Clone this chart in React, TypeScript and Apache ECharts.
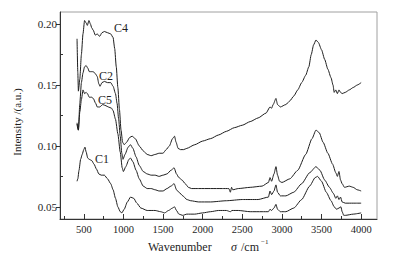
import React, { useEffect, useRef } from "react";
import * as echarts from "echarts";

const xMajorTicks = [500, 1000, 1500, 2000, 2500, 3000, 3500, 4000];
const xMinorTicks = [250, 750, 1250, 1750, 2250, 2750, 3250, 3750];
const yMajorTicks = [0.05, 0.1, 0.15, 0.2];
const yMinorTicks = [0.075, 0.125, 0.175];

const c4X = [415, 425, 432, 450, 470, 490, 510, 530, 545, 565, 585, 600, 620, 645, 670, 700, 730, 760, 800, 840, 870, 890, 910, 930, 950, 970, 990, 1010, 1040, 1080, 1110, 1150, 1200, 1250, 1300, 1350, 1400, 1450, 1500, 1540, 1580, 1620, 1645, 1665, 1690, 1720, 1760, 1800, 1900, 2000, 2100, 2200, 2300, 2400, 2500, 2600, 2700, 2800, 2850, 2870, 2890, 2925, 2945, 2980, 3050, 3100, 3150, 3200, 3250, 3300, 3340, 3370, 3400, 3430, 3460, 3500, 3540, 3580, 3620, 3645, 3660, 3680, 3700, 3720, 3740, 3760, 3800, 3850, 3900, 3950, 4000];
const c4Y = [0.188, 0.16, 0.145, 0.155, 0.175, 0.192, 0.203, 0.201, 0.199, 0.203, 0.2, 0.197, 0.195, 0.191, 0.192, 0.19, 0.193, 0.194, 0.193, 0.192, 0.189, 0.18, 0.165, 0.148, 0.13, 0.113, 0.103, 0.101, 0.103, 0.107, 0.108, 0.106, 0.1, 0.096, 0.093, 0.092, 0.093, 0.094, 0.094, 0.097, 0.1, 0.106, 0.108, 0.103, 0.098, 0.097, 0.097, 0.098, 0.101, 0.104, 0.106, 0.109, 0.112, 0.115, 0.117, 0.12, 0.123, 0.127, 0.132, 0.131, 0.134, 0.139, 0.134, 0.132, 0.134, 0.137, 0.141, 0.146, 0.152, 0.158, 0.165, 0.175, 0.183, 0.187, 0.185, 0.179, 0.171, 0.163, 0.156, 0.15, 0.144, 0.146, 0.143, 0.146, 0.144, 0.143, 0.144, 0.146, 0.148, 0.15, 0.152];

const c2X = [415, 425, 432, 450, 470, 490, 510, 530, 550, 570, 600, 620, 650, 670, 690, 705, 730, 760, 800, 840, 870, 900, 920, 940, 960, 980, 995, 1020, 1060, 1090, 1120, 1160, 1200, 1250, 1300, 1350, 1400, 1450, 1500, 1550, 1600, 1640, 1670, 1700, 1740, 1780, 1820, 1860, 1950, 2100, 2250, 2330, 2350, 2365, 2380, 2450, 2600, 2750, 2830, 2850, 2870, 2900, 2925, 2945, 2970, 3000, 3100, 3200, 3300, 3380, 3430, 3470, 3520, 3580, 3640, 3680, 3700, 3720, 3740, 3760, 3790, 3850, 3900, 3950, 4000];
const c2Y = [0.119, 0.115, 0.113, 0.135, 0.152, 0.16, 0.165, 0.166, 0.164, 0.161, 0.161, 0.161, 0.159, 0.157, 0.151, 0.149, 0.152, 0.153, 0.152, 0.152, 0.149, 0.143, 0.135, 0.122, 0.108, 0.094, 0.089, 0.093, 0.099, 0.101, 0.098, 0.091, 0.084, 0.079, 0.077, 0.076, 0.076, 0.075, 0.076, 0.077, 0.08, 0.082, 0.077, 0.074, 0.072, 0.069, 0.066, 0.065, 0.065, 0.065, 0.065, 0.065, 0.062, 0.066, 0.064, 0.065, 0.066, 0.067, 0.07, 0.074, 0.071, 0.077, 0.083, 0.076, 0.071, 0.07, 0.073, 0.08, 0.093, 0.106, 0.113, 0.111, 0.103, 0.094, 0.085, 0.078, 0.075, 0.079, 0.072, 0.069, 0.066, 0.067, 0.066, 0.064, 0.063];

const c5X = [415, 425, 432, 450, 470, 490, 510, 530, 545, 570, 600, 620, 650, 670, 700, 740, 780, 810, 850, 870, 900, 930, 960, 985, 1000, 1030, 1070, 1090, 1120, 1160, 1200, 1250, 1300, 1350, 1400, 1450, 1500, 1550, 1600, 1640, 1670, 1700, 1750, 1800, 1850, 1950, 2100, 2300, 2500, 2700, 2830, 2850, 2870, 2900, 2925, 2945, 2980, 3050, 3150, 3250, 3350, 3430, 3480, 3540, 3600, 3650, 3680, 3700, 3720, 3740, 3760, 3800, 3900, 4000];
const c5Y = [0.118, 0.114, 0.113, 0.128, 0.138, 0.146, 0.143, 0.144, 0.143, 0.14, 0.14, 0.139, 0.135, 0.132, 0.132, 0.134, 0.133, 0.132, 0.131, 0.129, 0.122, 0.11, 0.095, 0.082, 0.079, 0.083, 0.089, 0.09, 0.087, 0.08, 0.073, 0.067, 0.065, 0.065, 0.064, 0.063, 0.063, 0.065, 0.067, 0.069, 0.064, 0.062, 0.059, 0.056, 0.055, 0.054, 0.054, 0.055, 0.056, 0.056, 0.058, 0.063, 0.06, 0.063, 0.068, 0.062, 0.059, 0.059, 0.062, 0.069, 0.078, 0.083, 0.08, 0.072, 0.066, 0.061, 0.057, 0.059, 0.056, 0.058, 0.054, 0.053, 0.053, 0.053];

const c1X = [415, 425, 440, 460, 480, 500, 515, 530, 550, 570, 600, 630, 660, 690, 720, 760, 800, 840, 870, 900, 930, 960, 980, 1010, 1050, 1090, 1130, 1170, 1220, 1300, 1400, 1470, 1520, 1570, 1620, 1645, 1670, 1700, 1750, 1800, 1900, 2000, 2100, 2200, 2300, 2350, 2370, 2450, 2600, 2750, 2830, 2850, 2870, 2900, 2925, 2945, 2980, 3050, 3150, 3250, 3350, 3420, 3450, 3500, 3560, 3620, 3660, 3690, 3720, 3745, 3760, 3780, 3800, 3900, 4000];
const c1Y = [0.071, 0.073, 0.08, 0.089, 0.093, 0.097, 0.099, 0.095, 0.09, 0.089, 0.088, 0.085, 0.081, 0.077, 0.076, 0.076, 0.073, 0.069, 0.064, 0.057, 0.05, 0.046, 0.045, 0.048, 0.054, 0.058, 0.057, 0.053, 0.049, 0.047, 0.047, 0.046, 0.045, 0.047, 0.049, 0.05, 0.047, 0.044, 0.043, 0.044, 0.044, 0.045, 0.046, 0.047, 0.047, 0.046, 0.047, 0.047, 0.046, 0.046, 0.046, 0.048, 0.047, 0.049, 0.052, 0.048, 0.046, 0.046, 0.049, 0.056, 0.067, 0.074, 0.075, 0.071, 0.062, 0.055, 0.05, 0.048, 0.049, 0.05, 0.046, 0.043, 0.043, 0.044, 0.045];

const curveNames = ["C4", "C2", "C5", "C1"];

const FONT = "'Liberation Serif', 'Times New Roman', serif";
const INK = "#1e1e1e";

function pairs(xs: number[], ys: number[]) {
  return xs.map((x, i) => [x, ys[i]]);
}

export default function App() {
  const ref = useRef<HTMLDivElement>(null);
  useEffect(() => {
    if (!ref.current) return;
    const chart = echarts.init(ref.current, undefined, { renderer: "svg" });
    const lineSeries = (name: string, data: number[][]) => ({
      name,
      type: "line",
      data,
      showSymbol: false,
      smooth: 0.2,
      smoothMonotone: "x",
      lineStyle: { color: INK, width: 1 },
      xAxisIndex: 0,
      yAxisIndex: 0,
    });
    const labelText = (text: string, x: number, y: number) => ({
      type: "text",
      x,
      y,
      style: { text, font: `12px ${FONT}`, fill: INK, textAlign: "center", textVerticalAlign: "middle" },
    });
    chart.setOption({
      animation: false,
      grid: { left: 60, top: 12, right: 21, bottom: 40, show: true, borderColor: "#a0a0a0", borderWidth: 1 },
      xAxis: [
        {
          type: "value",
          min: 200,
          max: 4200,
          position: "bottom",
          axisLine: { show: true, lineStyle: { color: "#333", width: 1 } },
          axisTick: { show: true, inside: true, length: 5, customValues: xMajorTicks, lineStyle: { color: "#333" } },
          axisLabel: {
            customValues: xMajorTicks,
            fontFamily: FONT,
            fontSize: 10.5,
            color: INK,
            margin: 5,
            formatter: (v: number) => String(v),
          },
          splitLine: { show: false },
        },
        {
          type: "value",
          min: 200,
          max: 4200,
          position: "bottom",
          axisLine: { show: false },
          axisTick: { show: true, inside: true, length: 3, customValues: xMinorTicks, lineStyle: { color: "#333" } },
          axisLabel: { show: false },
          splitLine: { show: false },
        },
      ],
      yAxis: [
        {
          type: "value",
          min: 0.04,
          max: 0.21,
          position: "left",
          axisLine: { show: true, lineStyle: { color: "#333", width: 1 } },
          axisTick: { show: true, inside: false, length: 4, customValues: yMajorTicks, lineStyle: { color: "#333" } },
          axisLabel: {
            customValues: yMajorTicks,
            fontFamily: FONT,
            fontSize: 11,
            color: INK,
            margin: 3,
            formatter: (v: number) => v.toFixed(2),
          },
          splitLine: { show: false },
        },
        {
          type: "value",
          min: 0.04,
          max: 0.21,
          position: "left",
          axisLine: { show: false },
          axisTick: { show: true, inside: true, length: 3, customValues: yMinorTicks, lineStyle: { color: "#333" } },
          axisLabel: { show: false },
          splitLine: { show: false },
        },
      ],
      series: [
        lineSeries(curveNames[0], pairs(c4X, c4Y)),
        lineSeries(curveNames[1], pairs(c2X, c2Y)),
        lineSeries(curveNames[2], pairs(c5X, c5Y)),
        lineSeries(curveNames[3], pairs(c1X, c1Y)),
      ],
      graphic: [
        labelText(curveNames[0], 121, 28),
        labelText(curveNames[1], 106, 76),
        labelText(curveNames[2], 105, 100),
        labelText(curveNames[3], 102, 159),
        {
          type: "text",
          x: 17,
          y: 122,
          rotation: Math.PI / 2,
          style: { text: "Intensity /(a.u.)", font: `11px ${FONT}`, fill: INK, textAlign: "center", textVerticalAlign: "middle" },
        },
        {
          type: "text",
          x: 148,
          y: 247,
          style: { text: "Wavenumber", font: `12px ${FONT}`, fill: INK, textAlign: "left", textVerticalAlign: "middle" },
        },
        {
          type: "text",
          x: 231,
          y: 247,
          style: { text: "σ", font: `italic 12px ${FONT}`, fill: INK, textAlign: "left", textVerticalAlign: "middle" },
        },
        {
          type: "text",
          x: 241,
          y: 247,
          style: { text: "/cm", font: `12px ${FONT}`, fill: INK, textAlign: "left", textVerticalAlign: "middle" },
        },
        {
          type: "text",
          x: 261,
          y: 242,
          style: { text: "−1", font: `7px ${FONT}`, fill: INK, textAlign: "left", textVerticalAlign: "middle" },
        },
      ],
    });
    return () => chart.dispose();
  }, []);
  return <div ref={ref} style={{ position: "fixed", left: 0, top: 0, width: 398, height: 259, background: "#fff" }} />;
}
